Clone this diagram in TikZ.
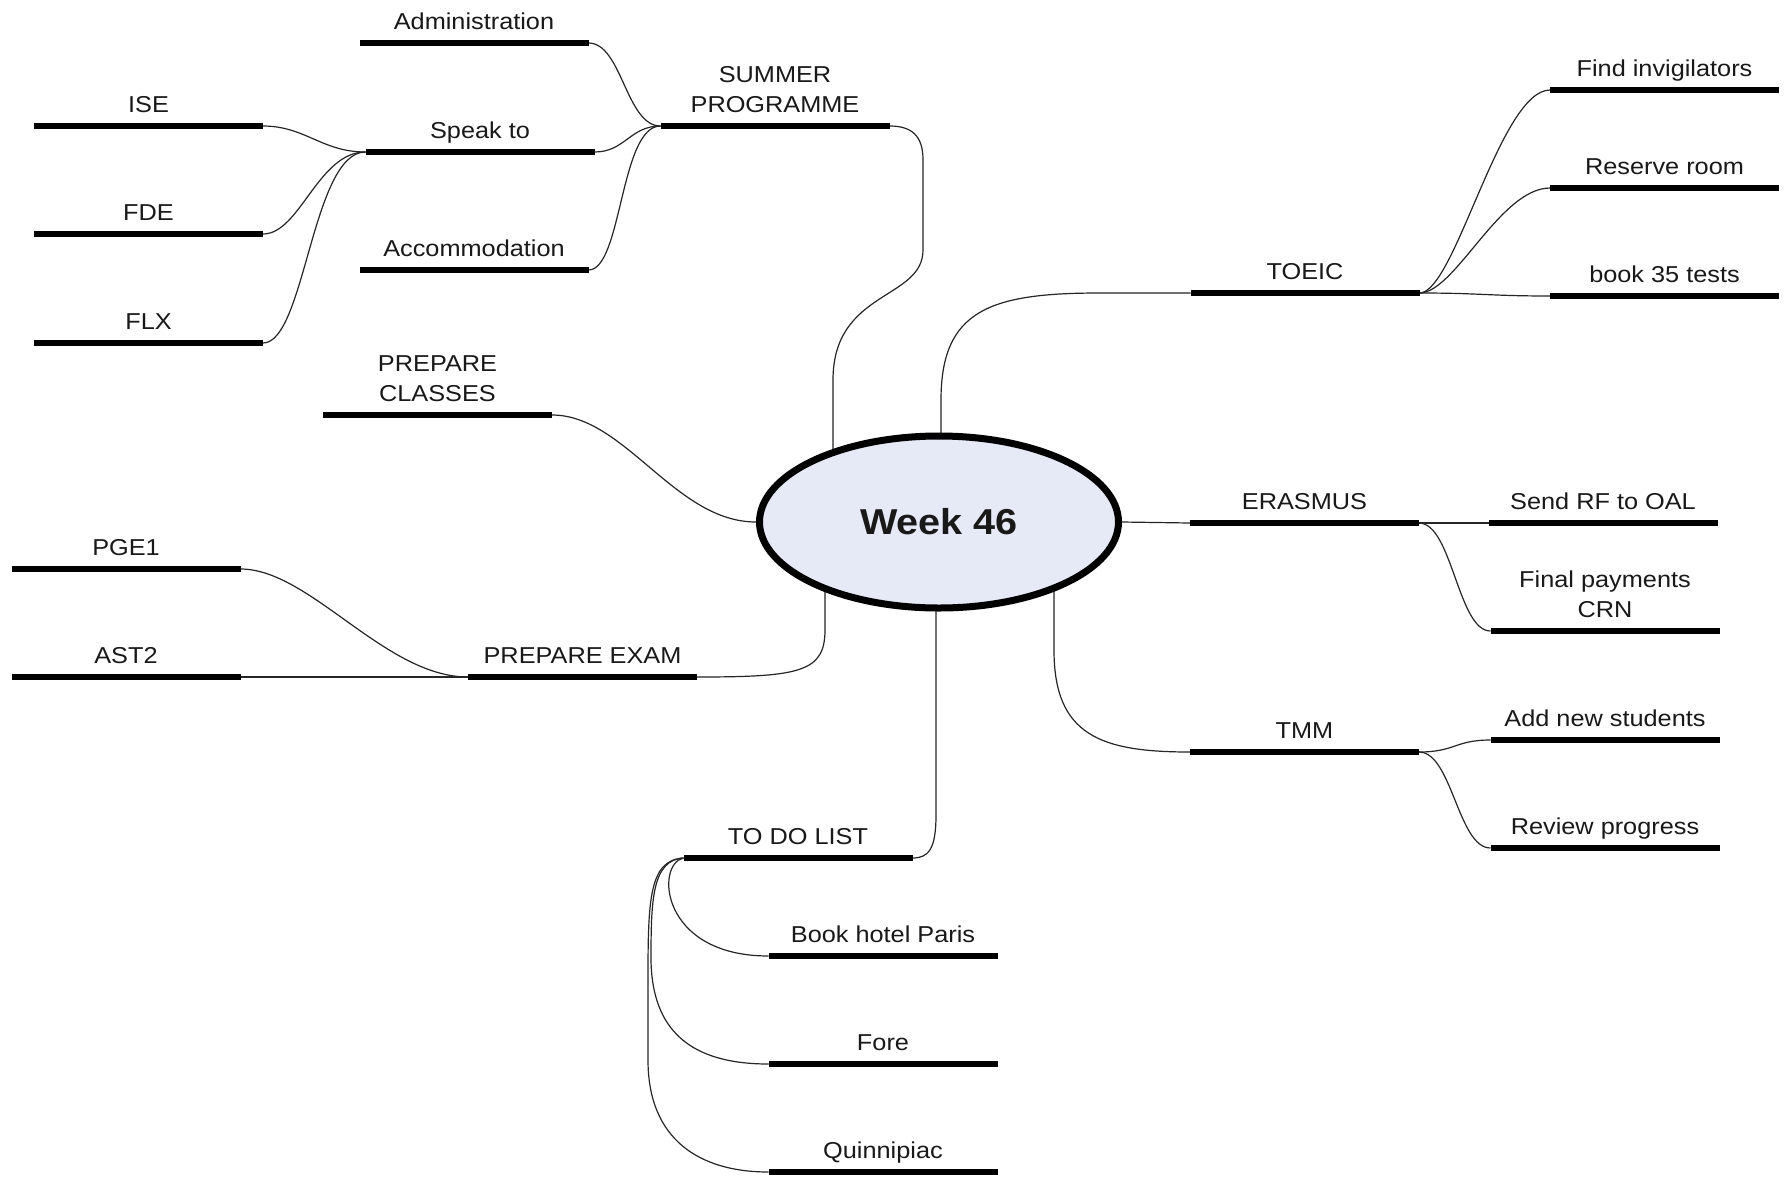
\documentclass[tikz,border=0pt]{standalone}
\usepackage{fontspec}
\newfontfamily\lblfont[FakeStretch=1.1]{Liberation Sans}
\usetikzlibrary{calc,shapes.geometric}
\pgfdeclarelayer{bg}
\pgfsetlayers{bg,main}
\definecolor{ctrfill}{RGB}{230,234,247}
\definecolor{txt}{RGB}{25,25,25}
\tikzset{
  bar/.style={fill=black, minimum width=229pt, minimum height=6pt, inner sep=0pt, outer sep=0pt},
  lbl/.style={font={\lblfont\fontsize{23}{30}\selectfont}, text=txt, inner sep=0pt, text depth=0pt},
  conn/.style={line width=1.2pt, black!85},
  centre/.style={ellipse, draw=black, line width=7pt, fill=ctrfill, minimum width=359pt,
    minimum height=172pt, inner sep=0pt, text=txt, font={\lblfont\bfseries\fontsize{36}{40}\selectfont}}
}
\newcommand\twolines[2]{\begin{tabular}[b]{@{}c@{}}#1\\#2\end{tabular}}
\begin{document}
\begin{tikzpicture}[x=1pt, y=-1pt, label distance=10pt]
\useasboundingbox (0,0) rectangle (1786,1176);

\node[centre] (c) at (939,522) {Week 46};

% left side
\node[bar, label={[lbl]above:Administration}] (admin) at (474,43) {};
\node[bar, label={[lbl]above:\twolines{SUMMER}{PROGRAMME}}] (summer) at (775,126) {};
\node[bar, label={[lbl]above:Speak to}] (speak) at (480,152) {};
\node[bar, label={[lbl]above:Accommodation}] (accom) at (474,270) {};
\node[bar, label={[lbl]above:ISE}] (ise) at (148.5,126) {};
\node[bar, label={[lbl]above:FDE}] (fde) at (148.5,234) {};
\node[bar, label={[lbl]above:FLX}] (flx) at (148.5,343) {};
\node[bar, label={[lbl]above:\twolines{PREPARE}{CLASSES}}] (pclasses) at (437.5,415) {};
\node[bar, label={[lbl]above:PGE1}] (pge1) at (126,569) {};
\node[bar, label={[lbl]above:AST2}] (ast2) at (126,677) {};
\node[bar, label={[lbl]above:PREPARE EXAM}] (pexam) at (582.5,677) {};

% right side
\node[bar, label={[lbl]above:TOEIC}] (toeic) at (1305,293) {};
\node[bar, label={[lbl]above:Find invigilators}] (find) at (1664.5,90) {};
\node[bar, label={[lbl]above:Reserve room}] (reserve) at (1664.5,188) {};
\node[bar, label={[lbl]above:book 35 tests}] (book35) at (1664.5,296) {};
\node[bar, label={[lbl]above:ERASMUS}] (erasmus) at (1304.5,523) {};
\node[bar, label={[lbl]above:Send RF to OAL}] (sendrf) at (1603,523) {};
\node[bar, label={[lbl]above:\twolines{Final payments}{CRN}}] (final) at (1605,631) {};
\node[bar, label={[lbl]above:TMM}] (tmm) at (1304.5,752) {};
\node[bar, label={[lbl]above:Add new students}] (addnew) at (1605,740) {};
\node[bar, label={[lbl]above:Review progress}] (review) at (1605,848) {};

% bottom
\node[bar, label={[lbl]above:TO DO LIST}] (todo) at (798,858) {};
\node[bar, label={[lbl]above:Book hotel Paris}] (hotel) at (883,956) {};
\node[bar, label={[lbl]above:Fore}] (fore) at (883,1064) {};
\node[bar, label={[lbl]above:Quinnipiac}] (quinn) at (883,1172) {};

\begin{pgfonlayer}{bg}
\fill[white] (0,0) rectangle (1786,1176);
\draw[conn] (summer.east) .. controls (912,126) and (923,136) .. (923,160) -- (923,250)
  .. controls (923,300) and (833,290) .. (833,380) -- ($(c.center)+(-106,0)$);
\draw[conn] ($(c.center)+(2,0)$) -- (941,400) .. controls (941,310) and (990,293) .. (1100,293) -- (toeic.west);
\draw[conn] (toeic.east) .. controls (1455,293) and (1500,90) .. (find.west);
\draw[conn] (toeic.east) .. controls (1455,293) and (1500,188) .. (reserve.west);
\draw[conn] (toeic.east) .. controls (1480,293) and (1490,296) .. (book35.west);
\draw[conn] (admin.east) .. controls (622,43) and (626,126) .. (summer.west);
\draw[conn] (speak.east) .. controls (625,152) and (630,126) .. (summer.west);
\draw[conn] (accom.east) .. controls (622,270) and (620,126) .. (summer.west);
\draw[conn] (ise.east) .. controls (305,126) and (322,152) .. (speak.west);
\draw[conn] (fde.east) .. controls (300,234) and (318,152) .. (speak.west);
\draw[conn] (flx.east) .. controls (305,343) and (312,152) .. (speak.west);
\draw[conn] (pclasses.east) .. controls (625,415) and (675,522) .. (c.west);
\draw[conn] (pexam.east) .. controls (800,677) and (825,672) .. (825,630) -- ($(c.center)+(-114,0)$);
\draw[conn] (pge1.east) .. controls (310,569) and (385,677) .. (pexam.west);
\draw[conn] (ast2.east) -- (pexam.west);
\draw[conn] (c.east) -- (erasmus.west);
\draw[conn] (erasmus.east) -- (sendrf.west);
\draw[conn] (erasmus.east) .. controls (1452,523) and (1458,631) .. (final.west);
\draw[conn] ($(c.center)+(115,0)$) -- (1054,650) .. controls (1054,735) and (1100,752) .. (tmm.west);
\draw[conn] (tmm.east) .. controls (1455,752) and (1455,740) .. (addnew.west);
\draw[conn] (tmm.east) .. controls (1452,752) and (1458,848) .. (review.west);
\draw[conn] ($(c.center)+(-3,0)$) -- (936,815) .. controls (936,850) and (928,858) .. (todo.east);
\draw[conn] (todo.west) .. controls (655,864) and (660,956) .. (hotel.west);
\draw[conn] (todo.west) .. controls (652,860) and (651,900) .. (651,960)
  .. controls (652,1030) and (690,1064) .. (fore.west);
\draw[conn] (todo.west) .. controls (649,860) and (648,900) .. (648,980) -- (648,1060)
  .. controls (648,1140) and (700,1172) .. (quinn.west);
\end{pgfonlayer}
\end{tikzpicture}
\end{document}
